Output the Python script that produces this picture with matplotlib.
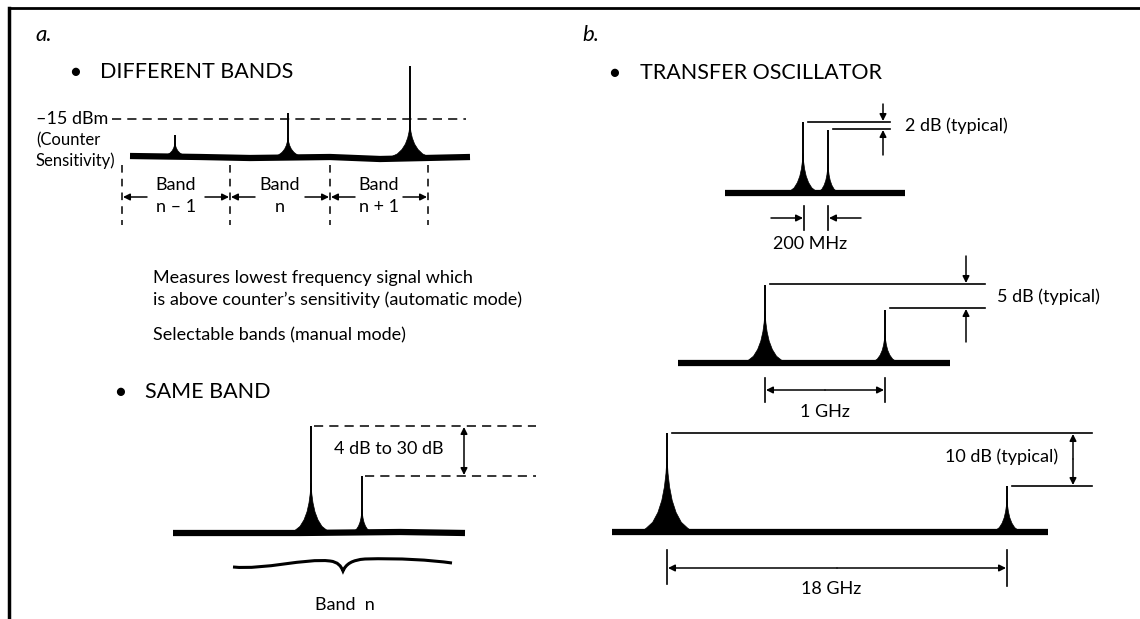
import matplotlib.pyplot as plt
from matplotlib.path import Path
from matplotlib.patches import PathPatch
import numpy as np

plt.rcParams['font.family'] = ['Lato', 'DejaVu Sans']

# ---- panel a, different bands (pixel-like diagram units, y down)
floor_a_x = [130, 200, 250, 330, 380, 470]
floor_a_y = [156, 157, 158, 157, 159, 157]
peaks_a_x = [175, 288, 410]
peaks_a_top = [135, 113, 66]
peaks_a_skirt = [14, 20, 34]
peaks_a_width = [14, 17, 23]
sens_level = 119
band_edges = [122, 230, 330, 428]
band_names = ['n \u2013 1', 'n', 'n + 1']

# ---- panel a, same band
floor_s_x = [173, 300, 400, 465]
floor_s_y = [533, 533, 532, 533]
peaks_s_x = [311, 362]
peaks_s_top = [426, 476]
peaks_s_skirt = [50, 24]
peaks_s_width = [20, 10]

# ---- panel b, transfer oscillator (three traces)
floors_b_x = [[725, 905], [678, 950], [612, 1048]]
floors_b_y = [193, 363, 532]
peaks_b_x = [[803, 828], [765, 885], [667, 1007]]
peaks_b_top = [[122, 130], [285, 310], [433, 486]]
peaks_b_skirt = [[40, 30], [52, 30], [75, 34]]
peaks_b_width = [[16, 11], [21, 14], [26, 14]]
level_labels = ['2 dB (typical)', '5 dB (typical)', '10 dB (typical)']
span_labels = ['200 MHz', '1 GHz', '18 GHz']

# skirt shape (fraction of half width vs fraction of skirt height)
skirt_u = np.array([0, 0.04, 0.1, 0.2, 0.35, 0.55, 0.8, 1.0])
skirt_v = np.array([1.0, 0.78, 0.6, 0.42, 0.26, 0.13, 0.05, 0.0])

FS = 13     # small text
FH = 15.5   # headings

fig = plt.figure(figsize=(11.4, 6.19), dpi=100)
ax = fig.add_axes([0, 0, 1, 1])
ax.set_xlim(0, 1140)
ax.set_ylim(619, 0)
ax.axis('off')

K = 'black'


def peak(x, base, top, sh, sw):
    ax.plot([x, x], [base, top], color=K, lw=1.4, solid_capstyle='butt')
    px = x + np.concatenate([-skirt_u[::-1] * sw, skirt_u * sw])
    py = base - np.concatenate([skirt_v[::-1], skirt_v]) * sh
    ax.fill(px, py, color=K, lw=0.5)


def floor(xs, ys):
    ax.plot(xs, ys, color=K, lw=4.5, solid_capstyle='butt')


def arrow(x0, y0, x1, y1, style='-|>'):
    ax.annotate('', xy=(x1, y1), xytext=(x0, y0),
                arrowprops=dict(arrowstyle=style, color=K, lw=1.1,
                                mutation_scale=10, shrinkA=0, shrinkB=0))


# frame
ax.plot([9, 9], [8, 619], color=K, lw=2.5)
ax.plot([9, 1140], [8, 8], color=K, lw=2)

# ---------------- panel a
ax.text(35, 35, 'a.', fontsize=16, style='italic', va='center')
ax.text(75, 72, '\u25cf', fontsize=12, va='center', ha='center')
ax.text(100, 72, 'DIFFERENT BANDS', fontsize=FH, va='center')

ax.text(36, sens_level, '\u201315 dBm', fontsize=FS, va='center')
ax.plot([112, 466], [sens_level, sens_level], color=K, lw=1.1, dashes=(6, 4))
ax.text(36, 140, '(Counter', fontsize=12, va='center')
ax.text(36, 161, 'Sensitivity)', fontsize=12, va='center')

floor(floor_a_x, floor_a_y)
for x, t, sh, sw in zip(peaks_a_x, peaks_a_top, peaks_a_skirt, peaks_a_width):
    peak(x, np.interp(x, floor_a_x, floor_a_y), t, sh, sw)

for e in band_edges:
    ax.plot([e, e], [165, 225], color=K, lw=1.1, dashes=(5, 4))
for i, name in enumerate(band_names):
    l, r = band_edges[i], band_edges[i + 1]
    c = (l + r) / 2
    ax.text(c, 185, 'Band', fontsize=FS, ha='center', va='center')
    ax.text(c, 207, name, fontsize=FS, ha='center', va='center')
    arrow(l + 25, 197, l + 1, 197)
    arrow(r - 25, 197, r - 1, 197)

ax.text(153, 278, 'Measures lowest frequency signal which', fontsize=FS, va='center')
ax.text(153, 300, 'is above counter\u2019s sensitivity (automatic mode)', fontsize=FS, va='center')
ax.text(153, 335, 'Selectable bands (manual mode)', fontsize=FS, va='center')

ax.text(120, 392, '\u25cf', fontsize=12, va='center', ha='center')
ax.text(145, 392, 'SAME BAND', fontsize=FH, va='center')

floor(floor_s_x, floor_s_y)
for x, t, sh, sw in zip(peaks_s_x, peaks_s_top, peaks_s_skirt, peaks_s_width):
    peak(x, np.interp(x, floor_s_x, floor_s_y), t, sh, sw)
ax.plot([peaks_s_x[0] + 3, 536], [peaks_s_top[0]] * 2, color=K, lw=1.1, dashes=(6, 4))
ax.plot([peaks_s_x[1] + 3, 536], [peaks_s_top[1]] * 2, color=K, lw=1.1, dashes=(6, 4))
arrow(464, peaks_s_top[0] + 1, 464, peaks_s_top[1] - 1, style='<|-|>')
ax.text(389, 449, '4 dB to 30 dB', fontsize=FS, ha='center', va='center')

# brace
brace = Path([(233, 567), (265, 570), (305, 558), (330, 561),
              (338, 562), (341, 566), (343, 571),
              (346, 564), (352, 560), (365, 559),
              (400, 558), (430, 560), (452, 563)],
             [Path.MOVETO] + [Path.CURVE4] * 12)
ax.add_patch(PathPatch(brace, fill=False, lw=2.2, color=K))
ax.text(345, 605, 'Band  n', fontsize=FS, ha='center', va='center')

# ---------------- panel b
ax.text(582, 35, 'b.', fontsize=16, style='italic', va='center')
ax.text(614, 73, '\u25cf', fontsize=12, va='center', ha='center')
ax.text(640, 73, 'TRANSFER OSCILLATOR', fontsize=FH, va='center')

for fx, fy, pxs, pts, shs, sws in zip(floors_b_x, floors_b_y, peaks_b_x,
                                      peaks_b_top, peaks_b_skirt, peaks_b_width):
    floor(fx, [fy, fy])
    for x, t, sh, sw in zip(pxs, pts, shs, sws):
        peak(x, fy, t, sh, sw)

# trace 1: 2 dB, 200 MHz
(p1, p2), (t1, t2) = peaks_b_x[0], peaks_b_top[0]
ax.plot([p1 + 5, 890], [t1, t1], color=K, lw=1.2)
ax.plot([p2 + 5, 890], [t2 - 1, t2 - 1], color=K, lw=1.2)
arrow(883, 104, 883, t1 - 1)
arrow(883, 155, 883, t2)
ax.text(905, 126, level_labels[0], fontsize=FS, va='center')
ax.plot([p1 + 1, p1 + 1], [206, 230], color=K, lw=1.2)
ax.plot([p2, p2], [206, 230], color=K, lw=1.2)
arrow(771, 218, p1, 218)
arrow(861, 218, p2 + 1, 218)
ax.text(810, 244, span_labels[0], fontsize=FS, ha='center', va='center')

# trace 2: 5 dB, 1 GHz
(p1, p2), (t1, t2) = peaks_b_x[1], peaks_b_top[1]
ax.plot([p1 + 5, 985], [t1 - 1, t1 - 1], color=K, lw=1.2)
ax.plot([p2 + 5, 985], [t2 - 2, t2 - 2], color=K, lw=1.2)
arrow(966, 256, 966, t1 - 2)
arrow(966, 342, 966, t2 - 1)
ax.text(997, 297, level_labels[1], fontsize=FS, va='center')
ax.plot([p1, p1], [378, 402], color=K, lw=1.2)
ax.plot([p2, p2], [378, 402], color=K, lw=1.2)
arrow((p1 + p2) / 2, 390, p1 + 1, 390)
arrow((p1 + p2) / 2, 390, p2 - 1, 390)
ax.text((p1 + p2) / 2, 412, span_labels[1], fontsize=FS, ha='center', va='center')

# trace 3: 10 dB, 18 GHz
(p1, p2), (t1, t2) = peaks_b_x[2], peaks_b_top[2]
ax.plot([p1 + 5, 1092], [t1, t1], color=K, lw=1.2)
ax.plot([p2 + 5, 1092], [t2, t2], color=K, lw=1.2)
arrow(1073, 459, 1073, t1 + 1)
arrow(1073, 459, 1073, t2 - 1)
ax.text(1058, 457, level_labels[2], fontsize=FS, ha='right', va='center')
ax.plot([p1, p1], [550, 584], color=K, lw=1.2)
ax.plot([p2, p2], [550, 586], color=K, lw=1.2)
arrow((p1 + p2) / 2, 568, p1 + 1, 568)
arrow((p1 + p2) / 2, 568, p2 - 1, 568)
ax.text(831, 589, span_labels[2], fontsize=FS, ha='center', va='center')

fig.savefig('out.png', dpi=100, facecolor='white')
